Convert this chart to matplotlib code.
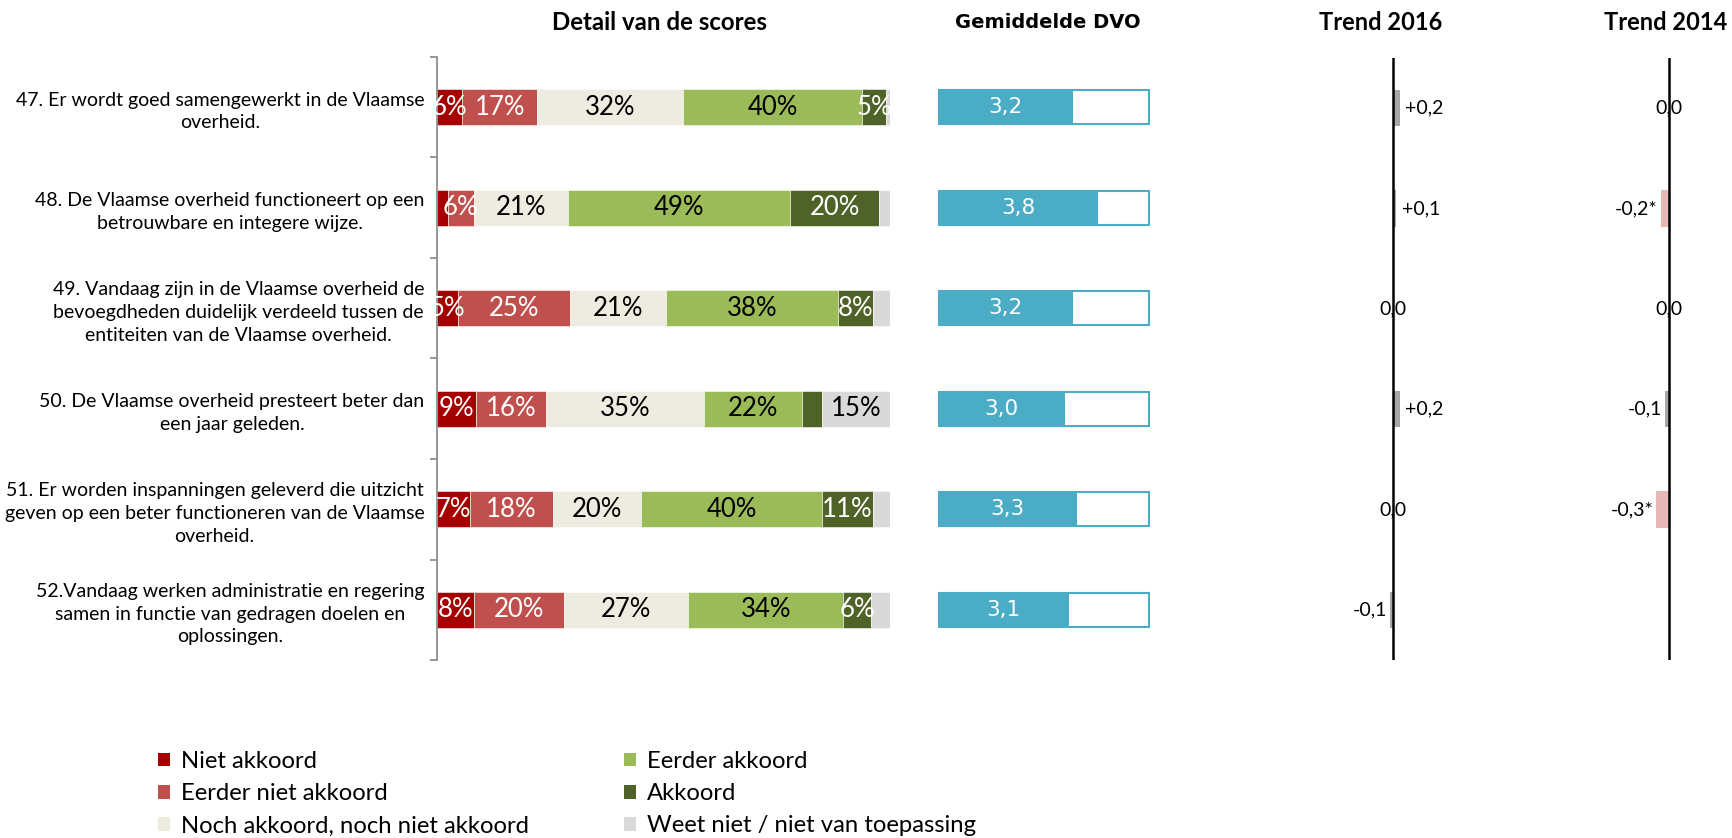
import numpy as np
import matplotlib.pyplot as plt
from matplotlib.patches import Patch

plt.rcParams['font.family'] = ['Lato', 'DejaVu Sans']

# data
questions = [
    '47. Er wordt goed samengewerkt in de Vlaamse\noverheid.',
    '48. De Vlaamse overheid functioneert op een\nbetrouwbare en integere wijze.',
    '49. Vandaag zijn in de Vlaamse overheid de\nbevoegdheden duidelijk verdeeld tussen de\nentiteiten van de Vlaamse overheid.',
    '50. De Vlaamse overheid presteert beter dan\neen jaar geleden.',
    '51. Er worden inspanningen geleverd die uitzicht\ngeven op een beter functioneren van de Vlaamse\noverheid.',
    '52.Vandaag werken administratie en regering\nsamen in functie van gedragen doelen en\noplossingen.',
]
answer_labels = ['Niet akkoord', 'Eerder niet akkoord', 'Noch akkoord, noch niet akkoord',
                 'Eerder akkoord', 'Akkoord', 'Weet niet / niet van toepassing']
niet_akkoord = [5.6, 2.4, 4.6, 8.6, 7.4, 8.2]
eerder_niet_akkoord = [16.6, 5.7, 24.9, 15.6, 18.2, 19.9]
noch_noch = [32.2, 20.9, 21.3, 34.8, 19.6, 27.4]
eerder_akkoord = [39.6, 49.2, 37.9, 21.8, 40.0, 34.4]
akkoord = [5.3, 19.7, 7.9, 4.3, 11.4, 6.1]
weet_niet = [0.9, 2.4, 3.7, 15.1, 3.7, 4.2]
dvo = [3.2, 3.8, 3.2, 3.0, 3.3, 3.1]
trend_2016 = [0.2, 0.1, 0.0, 0.2, 0.0, -0.1]
sig_2016 = [False, False, False, False, False, False]
trend_2014 = [0.0, -0.2, 0.0, -0.1, -0.3, None]
sig_2014 = [False, True, False, False, True, False]

colors = ['#A50000', '#C0504D', '#EEECE1', '#9BBB59', '#4F6228', '#D9D9D9']
text_colors = ['white', 'white', 'black', 'black', 'white', 'black']
blue = '#4BACC6'
grey = '#A6A6A6'
pink = '#E6B9B8'

W, H = 1732, 838
fig = plt.figure(figsize=(W / 100, H / 100), dpi=100)


def px_axes(x0, x1, y0, y1):
    return fig.add_axes([x0 / W, 1 - y1 / H, (x1 - x0) / W, (y1 - y0) / H])


y = np.arange(len(questions))
bar_h = 0.36

# stacked percentage bars
ax = px_axes(437, 890, 57, 660)
series = np.array([niet_akkoord, eerder_niet_akkoord, noch_noch, eerder_akkoord, akkoord, weet_niet])
totals = series.sum(axis=0)
left = np.zeros(len(questions))
for vals, c, tc in zip(series, colors, text_colors):
    widths = vals / totals * 100
    ax.barh(y, widths, left=left, height=bar_h, color=c, edgecolor='white', linewidth=0.4)
    for yi, v, l, w in zip(y, vals, left, widths):
        if v >= 4.5:
            ax.text(l + w / 2, yi, f'{v:.0f}%', ha='center', va='center', color=tc, fontsize=18.5)
    left += widths
ax.set_xlim(0, 100)
ax.set_ylim(len(questions) - 0.5, -0.5)
for s in ['top', 'right', 'bottom']:
    ax.spines[s].set_visible(False)
ax.spines['left'].set_color('#868686')
ax.spines['left'].set_linewidth(1.2)
ax.set_xticks([])
ax.set_yticks(y)
ax.set_yticklabels(questions, fontsize=14, linespacing=1.4)
for lab in ax.get_yticklabels():
    lab.set_multialignment('center')
ax.tick_params(axis='y', which='major', length=0, pad=9)
ax.set_yticks(np.arange(-0.5, len(questions), 1), minor=True)
ax.tick_params(axis='y', which='minor', length=5, color='#868686', width=1.2)

# gemiddelde DVO
ax2 = px_axes(938, 1150, 57, 660)
scale_max = 5
ax2.barh(y, [scale_max] * len(y), height=bar_h * 0.95, color='white', edgecolor=blue, linewidth=1.5)
ax2.barh(y, dvo, height=bar_h, color=blue)
for yi, v in zip(y, dvo):
    ax2.text(v / 2, yi, f'{v:.1f}'.replace('.', ','), ha='center', va='center',
             color='white', fontsize=15.5, family='DejaVu Sans')
ax2.set_xlim(0, scale_max + 0.02)
ax2.set_ylim(len(questions) - 0.5, -0.5)
ax2.axis('off')


def trend_axes(ax, vals, sig):
    for yi, v, s in zip(y, vals, sig):
        if v is None:
            continue
        ax.barh(yi, v, height=bar_h, color=pink if s else grey)
        txt = ('+' if v > 0 else '') + f'{v:.1f}'.replace('.', ',') + ('*' if s else '')
        if v > 0:
            ax.annotate(txt, (v, yi), xytext=(4, 0), textcoords='offset points',
                        ha='left', va='center', fontsize=14, annotation_clip=False)
        elif v < 0:
            ax.annotate(txt, (v, yi), xytext=(-2, 0), textcoords='offset points',
                        ha='right', va='center', fontsize=14, annotation_clip=False)
        else:
            ax.text(0, yi, txt, ha='center', va='center', fontsize=14)
    ax.axvline(0, color='black', linewidth=1.8)
    ax.set_xlim(-1, 1)
    ax.set_ylim(len(questions) - 0.5, -0.5)
    ax.axis('off')


ax3 = px_axes(1360.5, 1425.5, 58, 660)
trend_axes(ax3, trend_2016, sig_2016)
ax4 = px_axes(1627, 1711, 58, 660)
trend_axes(ax4, trend_2014, sig_2014)

# titles
fig.text(659 / W, 1 - 22 / H, 'Detail van de scores', ha='center', va='center', fontsize=17.3, fontweight='bold')
fig.text(1048 / W, 1 - 22 / H, 'Gemiddelde DVO', ha='center', va='center', fontsize=14,
         fontweight='bold', family='DejaVu Sans')
fig.text(1381 / W, 1 - 22 / H, 'Trend 2016', ha='center', va='center', fontsize=17, fontweight='bold')
fig.text(1666 / W, 1 - 22 / H, 'Trend 2014', ha='center', va='center', fontsize=17, fontweight='bold')

# legend, two columns
handles = [Patch(facecolor=c) for c in colors]
for cols, x0 in [(slice(0, 3), 158), (slice(3, 6), 624)]:
    fig.legend(handles[cols], answer_labels[cols], loc='upper left', bbox_to_anchor=(x0 / W, 1 - 751 / H),
               frameon=False, fontsize=17.2, handlelength=0.5, handleheight=0.5, handletextpad=0.45,
               labelspacing=0.47, borderpad=0, borderaxespad=0)

fig.savefig('out.png', dpi=100)
